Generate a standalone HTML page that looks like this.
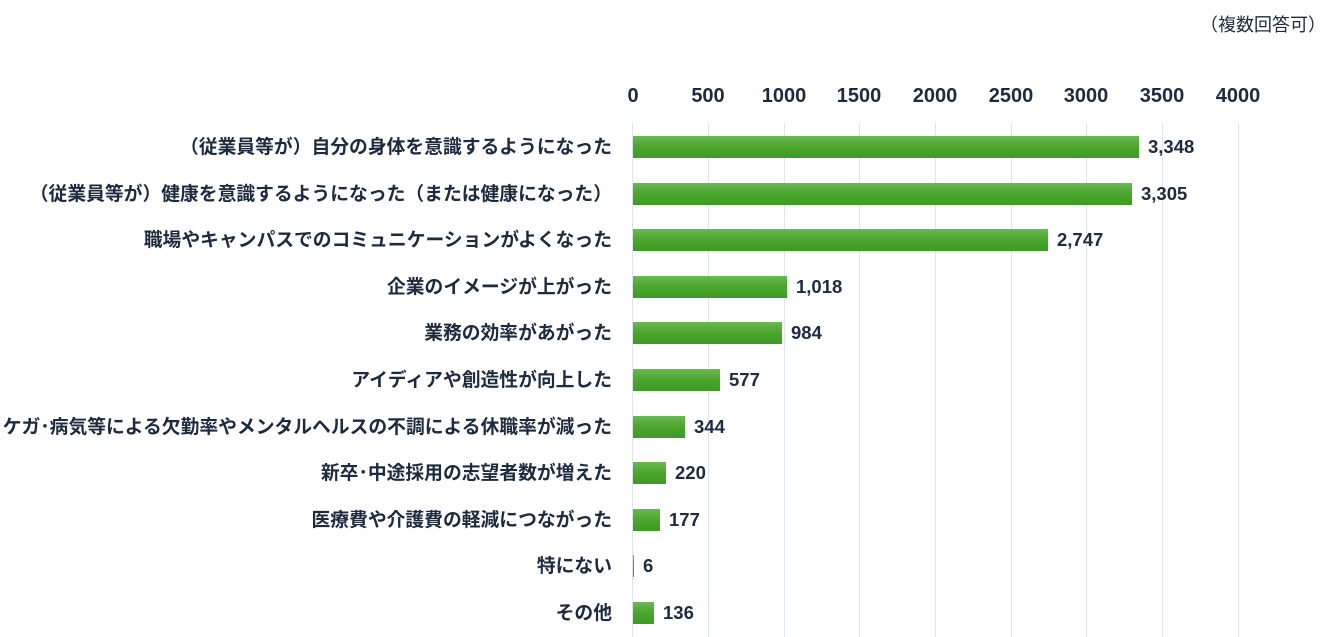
<!DOCTYPE html>
<html><head><meta charset="utf-8"><style>
body{margin:0;width:1332px;height:637px;background:#fff;position:relative;overflow:hidden;font-family:"Liberation Sans","Noto Sans CJK JP",sans-serif;color:#1c2b3f}
.g{position:absolute;top:123px;height:514px;width:1px;background:#dbe4ef}
.t{position:absolute;top:85px;font-size:20px;font-weight:bold;transform:translateX(-50%)}
.b{position:absolute;height:22px;background:linear-gradient(#6cb856,#4aa52c 50%,#3f9c22)}
.l{position:absolute;right:720px;font-size:18.8px;font-weight:bold;white-space:nowrap;line-height:22px}
.v{position:absolute;font-size:18.5px;font-weight:bold;line-height:22px}
</style></head><body>
<div style="position:absolute;right:6px;top:11px;font-size:18px">（複数回答可）</div>
<div class="g" style="left:632px"></div><div class="g" style="left:708px"></div><div class="g" style="left:784px"></div><div class="g" style="left:859px"></div><div class="g" style="left:935px"></div><div class="g" style="left:1011px"></div><div class="g" style="left:1086px"></div><div class="g" style="left:1162px"></div><div class="g" style="left:1238px"></div>
<div class="t" style="left:633px">0</div><div class="t" style="left:708px">500</div><div class="t" style="left:784px">1000</div><div class="t" style="left:859px">1500</div><div class="t" style="left:935px">2000</div><div class="t" style="left:1011px">2500</div><div class="t" style="left:1086px">3000</div><div class="t" style="left:1162px">3500</div><div class="t" style="left:1238px">4000</div>

<div class="l" style="top:136px">（従業員等が）自分の身体を意識するようになった</div><div class="b" style="top:136px;left:633px;width:506px"></div><div class="v" style="top:136px;left:1148px">3,348</div>
<div class="l" style="top:183px">（従業員等が）健康を意識するようになった（または健康になった）</div><div class="b" style="top:183px;left:633px;width:499px"></div><div class="v" style="top:183px;left:1141px">3,305</div>
<div class="l" style="top:229px">職場やキャンパスでのコミュニケーションがよくなった</div><div class="b" style="top:229px;left:633px;width:415px"></div><div class="v" style="top:229px;left:1057px">2,747</div>
<div class="l" style="top:276px">企業のイメージが上がった</div><div class="b" style="top:276px;left:633px;width:154px"></div><div class="v" style="top:276px;left:796px">1,018</div>
<div class="l" style="top:322px">業務の効率があがった</div><div class="b" style="top:322px;left:633px;width:149px"></div><div class="v" style="top:322px;left:791px">984</div>
<div class="l" style="top:369px">アイディアや創造性が向上した</div><div class="b" style="top:369px;left:633px;width:87px"></div><div class="v" style="top:369px;left:729px">577</div>
<div class="l" style="top:416px">ケガ･病気等による欠勤率やメンタルヘルスの不調による休職率が減った</div><div class="b" style="top:416px;left:633px;width:52px"></div><div class="v" style="top:416px;left:694px">344</div>
<div class="l" style="top:462px">新卒･中途採用の志望者数が増えた</div><div class="b" style="top:462px;left:633px;width:33px"></div><div class="v" style="top:462px;left:675px">220</div>
<div class="l" style="top:509px">医療費や介護費の軽減につながった</div><div class="b" style="top:509px;left:633px;width:27px"></div><div class="v" style="top:509px;left:669px">177</div>
<div class="l" style="top:555px">特にない</div><div class="b" style="top:555px;left:633px;width:1px"></div><div class="v" style="top:555px;left:643px">6</div>
<div class="l" style="top:602px">その他</div><div class="b" style="top:602px;left:633px;width:21px"></div><div class="v" style="top:602px;left:663px">136</div>
</body></html>
